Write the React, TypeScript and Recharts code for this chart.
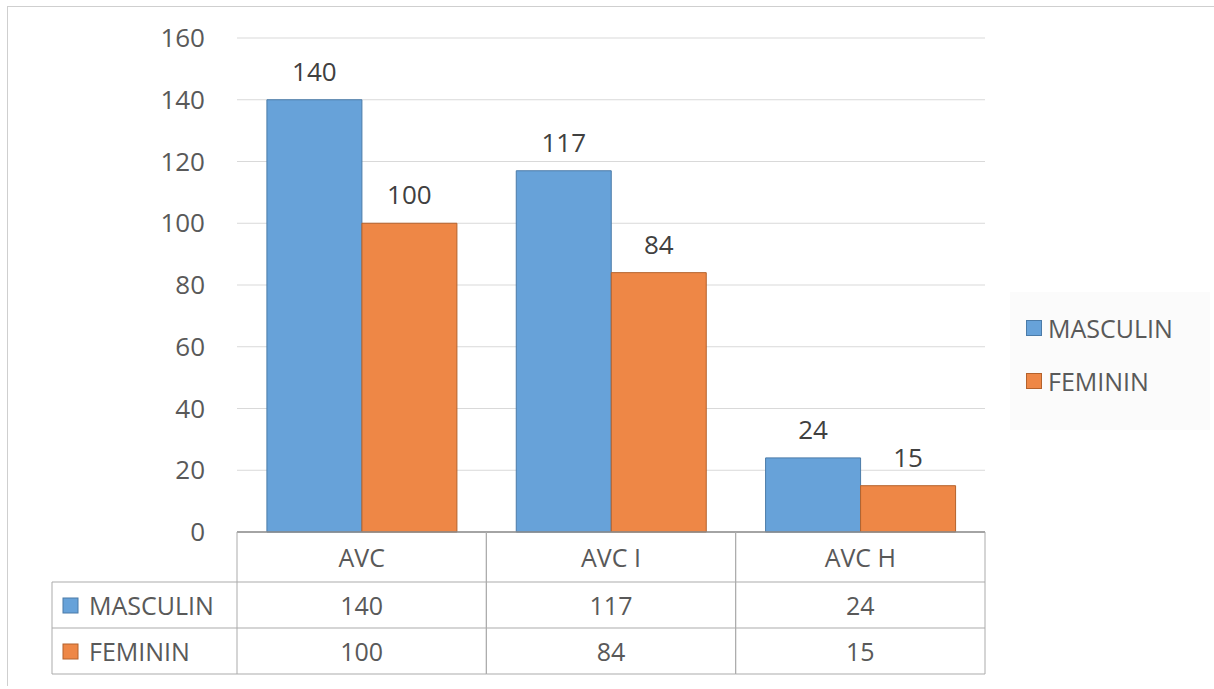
import { BarChart, Bar, XAxis, YAxis, CartesianGrid, Legend, LabelList } from 'recharts'

const categories = ['AVC', 'AVC I', 'AVC H']
const masculin = [140, 117, 24]
const feminin = [100, 84, 15]
const yTicks = [0, 20, 40, 60, 80, 100, 120, 140, 160]

const series = [
    { key: 'masculin', name: 'MASCULIN', values: masculin, fill: '#67A2D9', stroke: '#4B7BA8' },
    { key: 'feminin', name: 'FEMININ', values: feminin, fill: '#EE8746', stroke: '#B4622C' },
]

const data = categories.map((category, i) => ({
    category,
    masculin: masculin[i],
    feminin: feminin[i],
}))

// layout
const CHART_W = 1206
const CHART_H = 677
const MARGIN = { top: 31, right: 29, bottom: 10, left: 169 }
const Y_AXIS_W = 60
const LEGEND_W = 200
const PLOT_W = CHART_W - MARGIN.left - Y_AXIS_W - MARGIN.right - LEGEND_W
const BAND = PLOT_W / categories.length
const HEADER_H = 50
const ROW_H = 46
const LABEL_COL_W = 185
const FONT = '"Open Sans", sans-serif'
const TEXT = '#595959'
const LINE = '#ababab'

const TableTick = (props: any) => {
    const { x, y, payload } = props
    const i = payload.index
    const left = x - BAND / 2
    const right = x + BAND / 2
    const bottom = y + HEADER_H + ROW_H * series.length
    return (
        <g>
            <line x1={left} y1={y} x2={left} y2={bottom} stroke={LINE} />
            <line x1={right} y1={y} x2={right} y2={bottom} stroke={LINE} />
            {series.map((s, r) => (
                <line key={s.key} x1={left} x2={right} y1={y + HEADER_H + ROW_H * r} y2={y + HEADER_H + ROW_H * r} stroke={LINE} />
            ))}
            <line x1={left} x2={right} y1={bottom} y2={bottom} stroke={LINE} />
            <text x={x} y={y + HEADER_H / 2} textAnchor="middle" dominantBaseline="central" fill={TEXT} fontSize={25} fontFamily={FONT}>
                {categories[i]}
            </text>
            {series.map((s, r) => (
                <text key={s.key} x={x} y={y + HEADER_H + ROW_H * r + ROW_H / 2} textAnchor="middle" dominantBaseline="central" fill={TEXT} fontSize={25} fontFamily={FONT}>
                    {s.values[i]}
                </text>
            ))}
            {i === 0 && (
                <g>
                    <line x1={left - LABEL_COL_W} x2={left - LABEL_COL_W} y1={y + HEADER_H} y2={bottom} stroke={LINE} />
                    {series.map((s, r) => (
                        <g key={s.key}>
                            <line x1={left - LABEL_COL_W} x2={left} y1={y + HEADER_H + ROW_H * r} y2={y + HEADER_H + ROW_H * r} stroke={LINE} />
                            <rect x={left - LABEL_COL_W + 11} y={y + HEADER_H + ROW_H * r + ROW_H / 2 - 7} width={15} height={15} fill={s.fill} stroke={s.stroke} />
                            <text x={left - LABEL_COL_W + 37} y={y + HEADER_H + ROW_H * r + ROW_H / 2} dominantBaseline="central" fill={TEXT} fontSize={25} fontFamily={FONT}>
                                {s.name}
                            </text>
                        </g>
                    ))}
                    <line x1={left - LABEL_COL_W} x2={left} y1={bottom} y2={bottom} stroke={LINE} />
                </g>
            )}
        </g>
    )
}

const LegendBox = () => (
    <div style={{ width: LEGEND_W, background: '#fbfbfb', padding: '16px 0', boxSizing: 'border-box' }}>
        {series.map((s) => (
            <div key={s.key} style={{ display: 'flex', alignItems: 'center', height: 39, marginBottom: 14, paddingLeft: 16 }}>
                <span style={{ width: 16, height: 16, background: s.fill, border: `1px solid ${s.stroke}`, boxSizing: 'border-box', marginRight: 6 }} />
                <span style={{ fontFamily: FONT, fontSize: 25, color: TEXT }}>{s.name}</span>
            </div>
        ))}
    </div>
)

export default function App() {
    return (
        <div style={{ position: 'absolute', left: 7, top: 6, width: CHART_W, height: CHART_H + 2, borderTop: '1px solid #cfcfcf', borderLeft: '1px solid #cfcfcf', background: '#fff' }}>
            <BarChart width={CHART_W} height={CHART_H} data={data} margin={MARGIN} barCategoryGap="12%" barGap={0}>
                <CartesianGrid vertical={false} stroke="#d9d9d9" />
                <YAxis
                    width={Y_AXIS_W}
                    domain={[0, 160]}
                    ticks={yTicks}
                    axisLine={false}
                    tickLine={false}
                    tickSize={0}
                    tickMargin={32}
                    tick={{ fill: TEXT, fontSize: 26, fontFamily: FONT }}
                />
                <XAxis
                    dataKey="category"
                    height={142}
                    tickLine={false}
                    tickSize={0}
                    tickMargin={0}
                    axisLine={{ stroke: '#8c8c8c', strokeWidth: 1.5 }}
                    tick={<TableTick />}
                    interval={0}
                />
                <Legend
                    layout="vertical"
                    align="right"
                    verticalAlign="middle"
                    content={<LegendBox />}
                    wrapperStyle={{ width: LEGEND_W, right: 4, top: 285 }}
                />
                {series.map((s) => (
                    <Bar key={s.key} dataKey={s.key} name={s.name} fill={s.fill} stroke={s.stroke} isAnimationActive={false}>
                        <LabelList dataKey={s.key} position="top" offset={19} fill="#404040" fontSize={26} fontFamily={FONT} />
                    </Bar>
                ))}
            </BarChart>
        </div>
    )
}
